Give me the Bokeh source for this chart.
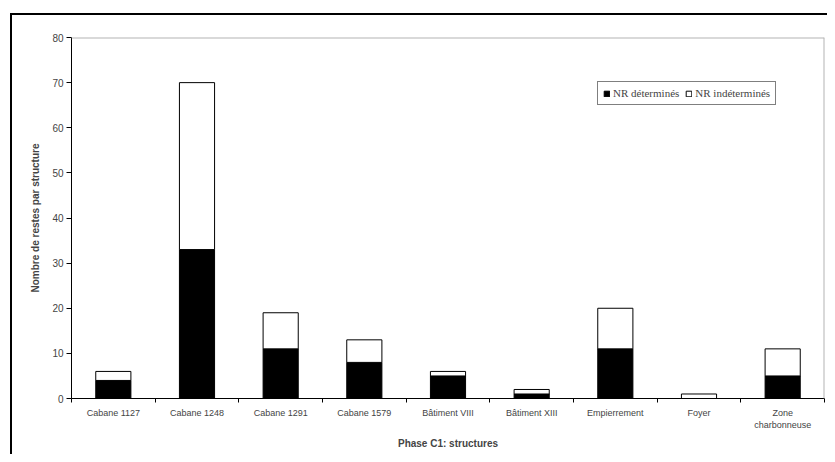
from bokeh.plotting import figure
from bokeh.models import (FixedTicker, Span, Range1d, Legend, LegendItem, InlineStyleSheet)
from bokeh.embed import file_html
from bokeh.resources import INLINE

structures = ["Cabane 1127", "Cabane 1248", "Cabane 1291", "Cabane 1579",
              "Bâtiment VIII", "Bâtiment XIII", "Empierrement", "Foyer",
              "Zone\ncharbonneuse"]
nr_determines = [4, 33, 11, 8, 5, 1, 11, 0, 5]
nr_indetermines = [2, 37, 8, 5, 1, 1, 9, 1, 6]
y_ticks = [0, 10, 20, 30, 40, 50, 60, 70, 80]

n = len(structures)
centers = [i + 0.5 for i in range(n)]
tops_det = nr_determines
bottoms_ind = nr_determines
tops_ind = [a + b for a, b in zip(nr_determines, nr_indetermines)]

frame_css = InlineStyleSheet(css="""
:host { position: relative; }
:host::after {
  content: "";
  position: absolute;
  left: 10px; top: 13px; right: 0px; bottom: 0px;
  border-left: 2px solid black;
  border-top: 2px solid black;
  pointer-events: none;
}
""")

p = figure(width=827, height=454, output_backend="svg", toolbar_location=None,
           x_range=Range1d(0, n), y_range=Range1d(0, 80),
           min_border_left=71, min_border_right=3, min_border_top=37,
           min_border_bottom=56, stylesheets=[frame_css])
p.outline_line_color = None
p.xgrid.grid_line_color = None
p.ygrid.grid_line_color = None

r1 = p.vbar(x=centers, top=tops_det, bottom=0, width=0.42,
            fill_color="black", line_color="black", line_width=1)
r2 = p.vbar(x=centers, top=tops_ind, bottom=bottoms_ind, width=0.42,
            fill_color="white", line_color="black", line_width=1)

# gray plot-area border (top and right)
p.add_layout(Span(location=80, dimension="width", line_color="#b4b4b4", line_width=2))
p.add_layout(Span(location=n, dimension="height", line_color="#b4b4b4", line_width=2))

# y axis
ya = p.yaxis[0]
ya.ticker = FixedTicker(ticks=y_ticks)
ya.axis_line_color = "black"
ya.major_tick_out = 5
ya.major_tick_in = 0
ya.minor_tick_line_color = None
ya.major_label_text_font = "Liberation Sans"
ya.major_label_text_font_size = "10px"
ya.major_label_standoff = 3
ya.axis_label = "Nombre de restes par structure"
ya.axis_label_text_font = "Liberation Sans"
ya.axis_label_text_font_size = "10px"
ya.axis_label_text_font_style = "bold"
ya.axis_label_standoff = 8

# x axis
xa = p.xaxis[0]
xa.ticker = FixedTicker(ticks=centers, minor_ticks=list(range(n + 1)))
xa.major_label_overrides = {c: s for c, s in zip(centers, structures)}
xa.major_tick_out = 0
xa.major_tick_in = 0
xa.minor_tick_out = 4
xa.minor_tick_in = 0
xa.minor_tick_line_color = "black"
xa.axis_line_color = "black"
xa.major_label_text_font = "Liberation Sans"
xa.major_label_text_font_size = "9px"
xa.major_label_standoff = 5
xa.axis_label = "Phase C1: structures"
xa.axis_label_text_font = "Liberation Sans"
xa.axis_label_text_font_size = "10px"
xa.axis_label_text_font_style = "bold"
xa.axis_label_standoff = 5

legend = Legend(items=[LegendItem(label="NR déterminés", renderers=[r1]),
                       LegendItem(label="NR indéterminés", renderers=[r2])],
                orientation="horizontal", location=(526, 293),
                label_text_font="Liberation Serif", label_text_font_size="11px",
                glyph_width=7, glyph_height=7, label_standoff=3, spacing=6,
                padding=5, margin=0, border_line_color="black", border_line_width=1,
                label_height=10, label_text_line_height=1.0)
p.add_layout(legend, "center")

open("out.html", "w").write(file_html(p, INLINE))
